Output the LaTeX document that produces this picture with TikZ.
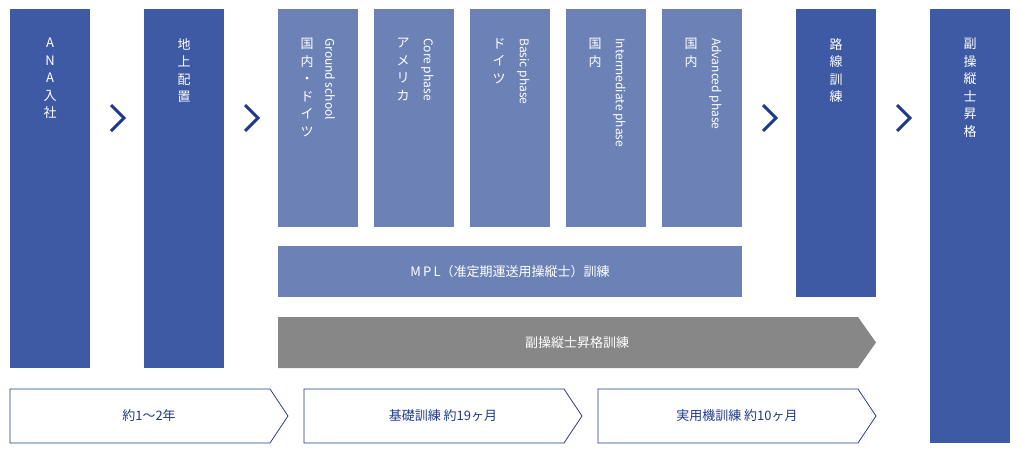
\documentclass[tikz,border=0pt]{standalone}
\usepackage{fontspec}
\setmainfont{Noto Sans CJK JP}
\begin{document}
\begin{tikzpicture}[x=1pt,y=-1pt,
  dk/.style={fill=darkb,draw=none},
  lt/.style={fill=lightb,draw=none},
  vtxt/.style={text=white,font=\fontsize{13}{17.5}\selectfont,align=center,anchor=north,inner sep=0pt},
  rtxt/.style={text=white,font=\fontsize{12}{14}\selectfont,rotate=-90,anchor=south west,inner sep=0pt},
  chev/.style={draw=navy,line width=3pt},
  per/.style={draw=navy,line width=0.8pt,fill=white},
  ptxt/.style={text=navy,font=\fontsize{13}{15}\selectfont,inner sep=0pt}]
\definecolor{darkb}{HTML}{3F5AA4}
\definecolor{lightb}{HTML}{6C82B6}
\definecolor{navy}{HTML}{1F3A8A}
\definecolor{grayb}{HTML}{878787}
\useasboundingbox (0,0) rectangle (1020,458);
% tall boxes
\fill[dk] (10,9) rectangle (90,368);
\node[vtxt] (ana) at (50,38) {A\\N\\A\\入\\社};
\fill[dk] (144,9) rectangle (224,368);
\node[vtxt] (chijo) at (184,38) {地\\上\\配\\置};
\fill[dk] (796,9) rectangle (876,297);
\node[vtxt] (rosen) at (836,38) {路\\線\\訓\\練};
\fill[dk] (930,9) rectangle (1010,443);
\node[vtxt] (fuku) at (970,38) {副\\操\\縦\\士\\昇\\格};
% chevrons
\foreach \cx/\nm in {118/c1,252/c2,770/c3,904/c4}{
  \coordinate (\nm) at (\cx,118);
  \draw[chev] ([shift={(-7,-13)}]\nm) -- ([shift={(6,0)}]\nm) -- ([shift={(-7,13)}]\nm);
}
% phases
\foreach \x/\jp/\en/\nm in {278/{国\\内\\・\\ド\\イ\\ツ}/Ground school/p1,
  374/{ア\\メ\\リ\\カ}/Core phase/p2,
  470/{ド\\イ\\ツ}/Basic phase/p3,
  566/{国\\内}/Intermediate phase/p4,
  662/{国\\内}/Advanced phase/p5}{
  \fill[lt] (\x,9) rectangle ++(80,218);
  \node[vtxt] (\nm j) at (\x+29,38) {\jp};
  \node[rtxt] (\nm e) at (\x+47,38) {\en};
}
% MPL bar
\fill[lt] (278,246) rectangle (742,297);
\node[text=white,font=\fontsize{13}{15}\selectfont] (mpl) at (510,271.5) {M\,P\,L（准定期運送用操縦士）訓練};
% gray arrow
\fill[grayb] (278,317) -- (858,317) -- (876,342.5) -- (858,368) -- (278,368) -- cycle;
\node[text=white,font=\fontsize{13}{15}\selectfont] (gray) at (577,342.5) {副操縦士昇格訓練};
% bottom periods
\foreach \x/\t/\nm in {10/約1～2年/b1,304/基礎訓練 約19ヶ月/b2,598/実用機訓練 約10ヶ月/b3}{
  \draw[per] (\x,389) -- (\x+260,389) -- (\x+278,416) -- (\x+260,443) -- (\x,443) -- cycle;
  \node[ptxt] (\nm) at (\x+139,416) {\t};
}
\end{tikzpicture}
\end{document}
